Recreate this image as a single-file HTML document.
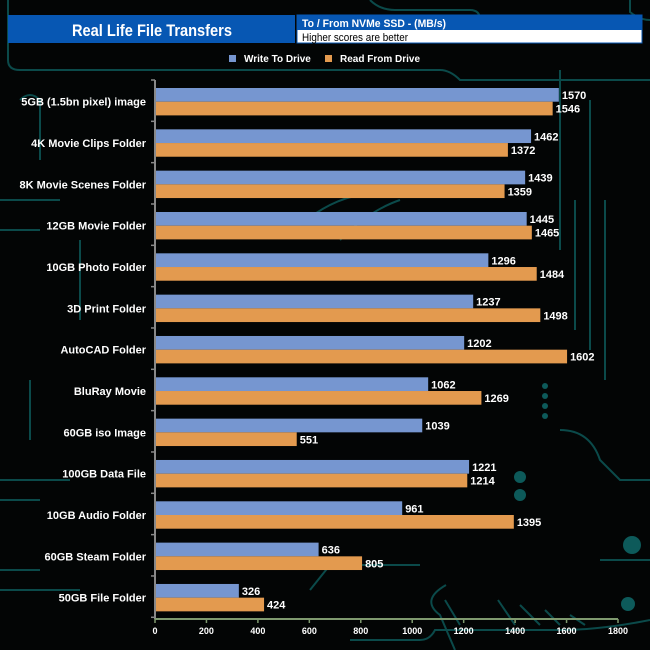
<!DOCTYPE html>
<html><head><meta charset="utf-8"><style>
html,body{margin:0;padding:0;background:#000;}
#wrap{position:relative;width:650px;height:650px;background:#030505;overflow:hidden;font-family:"Liberation Sans",Arial,sans-serif;}
svg{position:absolute;left:0;top:0}
</style></head><body>
<div id="wrap">
<svg id="chart" width="650" height="650">
 <g stroke="#0b4a4a" stroke-width="2" fill="none">
  <path d="M8 0 V60 Q8 70 20 70 H440 Q450 70 460 80 H650"/>
  <path d="M370 0 Q380 10 395 10 H470 Q480 10 480 20 V35"/>
  <path d="M630 0 V12 Q640 20 650 20"/>
  <path d="M0 200 H60 M0 230 H40 M0 480 H70 M0 500 H40 M0 570 H40 M0 590 H80"/>
  <path d="M40 120 V160 M30 380 V440 M80 240 V320"/>
  <path d="M300 225 Q330 200 360 195 M340 240 Q370 210 400 200"/>
  <path d="M310 590 L330 565 H420 M600 560 Q620 560 650 560"/>
  <path d="M350 640 H420 Q430 640 435 630 H560 Q600 630 650 620"/>
  <path d="M446 585 Q420 600 440 615 L455 650"/>
  <path d="M445 600 L460 625 M498 600 L515 625 M520 605 L540 625 M545 610 L560 625 M570 615 L585 625"/>
  <path d="M560 70 V250 M575 200 V330 M590 100 V350 M605 200 V380"/>
  <path d="M560 430 Q590 430 600 460 L620 480 H650"/>
  <path d="M20 100 Q30 90 40 100 V160"/>
 </g>
 <g fill="#0d5a5a">
  <circle cx="632" cy="545" r="9"/><circle cx="628" cy="604" r="7"/><circle cx="520" cy="477" r="6"/><circle cx="520" cy="495" r="6"/><circle cx="545" cy="386" r="3"/><circle cx="545" cy="396" r="3"/><circle cx="545" cy="406" r="3"/><circle cx="545" cy="416" r="3"/>
 </g>
</svg>
</div>
<script>
const categories=["5GB (1.5bn pixel) image","4K Movie Clips Folder","8K Movie Scenes Folder","12GB Movie Folder","10GB Photo Folder","3D Print Folder","AutoCAD Folder","BluRay Movie","60GB iso Image","100GB Data File","10GB Audio Folder","60GB Steam Folder","50GB File Folder"];
const writeValues=[1570,1462,1439,1445,1296,1237,1202,1062,1039,1221,961,636,326];
const readValues=[1546,1372,1359,1465,1484,1498,1602,1269,551,1214,1395,805,424];
const xTicks=[0,200,400,600,800,1000,1200,1400,1600,1800];
const NS="http://www.w3.org/2000/svg";
const svg=document.getElementById('chart');
const X0=155,X1=618,XMAX=1800,YTOP=80,BAND=41.33,BARH=13.7,YAXIS=619;
const xs=v=>X0+(v/XMAX)*(X1-X0);
const yb=i=>YTOP+i*BAND;
function el(tag,attrs,parent){const e=document.createElementNS(NS,tag);for(const k in attrs)e.setAttribute(k,attrs[k]);(parent||svg).appendChild(e);return e;}
// header
const hdr=el('g',{});


let r=el('rect',{x:8,y:15,width:287,height:28,fill:'#0757b3'},hdr);


let t=el('text',{x:72,y:36,fill:'#fff','font-size':17,'font-weight':'bold',textLength:160,lengthAdjust:'spacingAndGlyphs'},hdr);t.textContent='Real Life File Transfers';


r=el('rect',{x:297,y:15,width:345,height:28,fill:'#fff',stroke:'#0757b3','stroke-width':1},hdr);


el('rect',{x:297,y:15,width:345,height:15,fill:'#0757b3'},hdr);
t=el('text',{x:302,y:27,fill:'#fff','font-size':11,'font-weight':'bold',textLength:144,lengthAdjust:'spacingAndGlyphs'},hdr);t.textContent='To /  From NVMe  SSD - (MB/s)';


t=el('text',{x:302,y:41,fill:'#000','font-size':11,textLength:106,lengthAdjust:'spacingAndGlyphs'},hdr);t.textContent='Higher scores are better';


// legend
const lg=el('g',{});


const le1=el('g',{},lg);


el('rect',{x:229,y:55,width:7,height:7,fill:'#7696d0'},le1);
t=el('text',{x:244,y:62,fill:'#fff','font-size':10,'font-weight':'bold'},le1);t.textContent='Write To  Drive';
const le2=el('g',{},lg);


el('rect',{x:325,y:55,width:7,height:7,fill:'#e39a4f'},le2);
t=el('text',{x:340,y:62,fill:'#fff','font-size':10,'font-weight':'bold'},le2);t.textContent='Read From  Drive';
// bars
categories.forEach((c,i)=>{
 const y=yb(i)+8;
 const lab=el('text',{x:146,y:y+BARH+4,'text-anchor':'end',fill:'#fff','font-size':11,'font-weight':'bold'});
 lab.textContent=c;
 
 
 const b1=el('rect',{x:X0,y:y,width:xs(writeValues[i])-X0,height:BARH,fill:'#7696d0'});
 
 
 const v1=el('text',{x:xs(writeValues[i])+3,y:y+11,fill:'#fff','font-size':11,'font-weight':'bold'});
 v1.textContent=writeValues[i];
 
 
 const b2=el('rect',{x:X0,y:y+BARH,width:xs(readValues[i])-X0,height:BARH,fill:'#e39a4f'});
 
 
 const v2=el('text',{x:xs(readValues[i])+3,y:y+BARH+11,fill:'#fff','font-size':11,'font-weight':'bold'});
 v2.textContent=readValues[i];
 
 
});
// axes
const ya=el('line',{x1:X0,y1:YTOP,x2:X0,y2:YAXIS,stroke:'#888','stroke-width':2});


for(let i=0;i<=categories.length;i++){el('line',{x1:X0-4,y1:yb(i),x2:X0,y2:yb(i),stroke:'#888','stroke-width':1.5});}
const xa=el('line',{x1:X0,y1:YAXIS,x2:X1,y2:YAXIS,stroke:'#7f9a6f','stroke-width':2});


xTicks.forEach(v=>{
 el('line',{x1:xs(v),y1:YAXIS,x2:xs(v),y2:YAXIS+4,stroke:'#7f9a6f','stroke-width':1.5});
 const tl=el('text',{x:xs(v),y:YAXIS+15,'text-anchor':'middle',fill:'#fff','font-size':9,'font-weight':'bold'});
 tl.textContent=v;
 
 
});
</script>
</body></html>
